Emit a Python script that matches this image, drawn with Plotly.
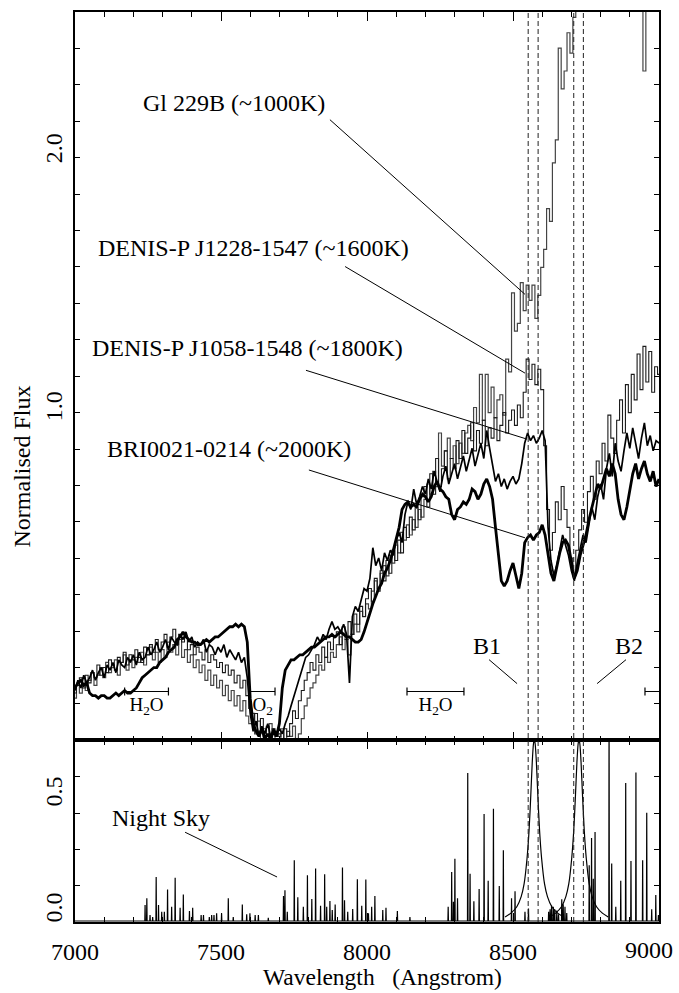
import plotly.graph_objects as go

# ---------------------------------------------------------------
# Spectra on a common 10 A grid (normalised flux)
# ---------------------------------------------------------------
wave = list(range(7000, 9001, 10))

gl229b = [
    -0.12, -0.07, -0.10, -0.04, -0.09, -0.05, -0.02, -0.07, -0.03, 0.00,
    -0.04, 0.02, -0.02, 0.00, 0.03, -0.03, 0.02, 0.05, -0.01, 0.03,
    0.00, 0.04, 0.02, 0.06, 0.01, 0.05, 0.08, 0.03, 0.06, 0.02,
    0.07, 0.04, 0.10, 0.06, 0.09, 0.05, 0.11, 0.04, 0.07, 0.02,
    0.05, 0.00, 0.03, -0.02, 0.01, -0.05, -0.01, -0.07, -0.03, -0.08,
    -0.05, -0.11, -0.07, -0.13, -0.09, -0.15, -0.11, -0.17, -0.13, -0.19,
    -0.22, -0.18, -0.26, -0.21, -0.28, -0.24, -0.27, -0.22, -0.28, -0.25,
    -0.27, -0.24, -0.28, -0.25, -0.27, -0.23, -0.28, -0.26, -0.20, -0.15,
    -0.12, -0.08, -0.06, -0.03, 0.01, -0.01, 0.04, 0.02, 0.06, 0.04,
    0.09, 0.12, 0.07, 0.11, 0.05, 0.13, 0.17, 0.14, 0.22, 0.20,
    0.25, 0.23, 0.30, 0.34, 0.31, 0.37, 0.40, 0.36, 0.44, 0.41,
    0.48, 0.45, 0.53, 0.50, 0.56, 0.52, 0.58, 0.55, 0.62, 0.59,
    0.66, 0.72, 0.68, 0.77, 0.71, 0.92, 0.79, 0.85, 0.90, 0.82,
    0.87, 0.80, 0.88, 0.84, 0.92, 0.95, 0.89, 1.02, 0.96, 1.15,
    0.97, 1.15, 1.00, 1.10, 0.98, 1.05, 1.07, 0.99, 1.21, 1.16,
    1.47, 1.32, 1.35, 1.51, 1.40, 1.50, 1.44, 1.50, 1.37, 1.46,
    1.57, 1.64, 1.80, 1.75, 1.98, 2.07, 2.43, 2.27, 2.34, 2.49,
    2.41, 2.55, 2.78, 2.86, 2.95, 3.02, 2.98, 3.10, 3.05, 3.15,
    3.12, 3.20, 3.18, 3.25, 3.22, 3.30, 3.26, 3.33, 3.29, 3.35,
    3.31, 3.38, 3.34, 3.40, 3.37, 2.34, 3.36, 3.42, 3.39, 3.45,
    3.41,
]

j1228 = [
    -0.10, -0.07, -0.04, -0.08, -0.03, -0.06, -0.02, -0.04, 0.01, -0.03,
    0.00, -0.02, 0.03, 0.01, -0.01, 0.04, 0.02, 0.06, 0.01, 0.05,
    0.03, 0.07, 0.04, 0.02, 0.08, 0.05, 0.09, 0.06, 0.11, 0.07,
    0.10, 0.13, 0.08, 0.12, 0.15, 0.09, 0.13, 0.10, 0.12, 0.07,
    0.09, 0.05, 0.08, 0.06, 0.03, 0.07, 0.02, 0.05, 0.03, 0.00,
    0.02, -0.02, 0.01, -0.03, -0.01, -0.06, -0.03, -0.08, -0.05, -0.11,
    -0.16, -0.21, -0.18, -0.25, -0.20, -0.27, -0.23, -0.28, -0.24, -0.27,
    -0.26, -0.28, -0.24, -0.27, -0.22, -0.17, -0.20, -0.13, -0.09, -0.05,
    -0.02, 0.02, -0.01, 0.05, 0.02, 0.08, 0.04, 0.10, 0.07, 0.12,
    0.14, 0.09, 0.16, 0.11, 0.18, 0.13, 0.21, 0.17, 0.24, 0.20,
    0.27, 0.31, 0.26, 0.35, 0.30, 0.38, 0.34, 0.42, 0.37, 0.46,
    0.42, 0.50, 0.45, 0.55, 0.51, 0.59, 0.54, 0.63, 0.58, 0.67,
    0.71, 0.63, 0.76, 0.68, 0.82, 0.71, 0.78, 0.85, 0.74, 0.82,
    0.78, 0.89, 0.82, 0.93, 0.84, 0.90, 0.96, 0.85, 0.93, 0.88,
    0.97, 0.87, 0.94, 0.90, 0.98, 0.89, 0.95, 1.00, 0.92, 0.97,
    1.01, 0.95, 1.03, 0.98, 1.08, 1.21, 1.13, 1.19, 1.11, 1.17,
    1.09, 0.87, 0.62, 0.46, 0.53, 0.65, 0.58, 0.71, 0.62, 0.55,
    0.43, 0.36, 0.46, 0.54, 0.62, 0.57, 0.69, 0.75, 0.66, 0.81,
    0.76, 0.88, 0.81, 0.99, 0.90, 0.84, 0.97, 1.05, 0.92, 1.11,
    1.00, 1.15, 1.05, 1.23, 1.09, 1.26, 1.12, 1.24, 1.08, 1.18,
    1.15,
]

j1058 = [
    -0.09, -0.05, -0.08, -0.03, -0.06, -0.04, -0.01, -0.05, -0.02, 0.00,
    -0.04, 0.01, -0.01, 0.02, -0.02, 0.03, 0.01, 0.00, 0.04, 0.02,
    0.05, 0.01, 0.06, 0.03, 0.04, 0.08, 0.05, 0.07, 0.10, 0.06,
    0.08, 0.11, 0.07, 0.12, 0.10, 0.09, 0.13, 0.11, 0.14, 0.10,
    0.12, 0.08, 0.10, 0.09, 0.11, 0.06, 0.09, 0.08, 0.05, 0.08,
    0.06, 0.09, 0.04, 0.07, 0.05, 0.03, 0.06, 0.02, 0.04, -0.04,
    -0.18, -0.25, -0.21, -0.27, -0.23, -0.26, -0.22, -0.27, -0.24, -0.26,
    -0.24, -0.26, -0.22, -0.19, -0.15, -0.11, -0.07, -0.03, 0.00, 0.04,
    0.05, 0.07, 0.09, 0.12, 0.10, 0.13, 0.11, 0.15, 0.18, 0.15,
    0.16, 0.14, 0.17, 0.13, -0.06, 0.20, 0.24, 0.22, 0.27, 0.31,
    0.30, 0.35, 0.47, 0.40, 0.43, 0.38, 0.45, 0.42, 0.46, 0.44,
    0.50, 0.53, 0.49, 0.60, 0.65, 0.62, 0.70, 0.64, 0.67, 0.71,
    0.68, 0.74, 0.70, 0.77, 0.73, 0.69, 0.75, 0.79, 0.72, 0.76,
    0.80, 0.74, 0.78, 0.83, 0.77, 0.81, 0.86, 0.79, 0.84, 0.88,
    0.82, 0.93, 0.86, 0.79, 0.73, 0.76, 0.71, 0.74, 0.70, 0.73,
    0.75, 0.72, 0.74, 0.80, 0.88, 0.92, 0.89, 0.91, 0.88, 0.90,
    0.93, 0.89, 0.55, 0.42, 0.36, 0.40, 0.46, 0.52, 0.48, 0.44,
    0.38, 0.34, 0.41, 0.47, 0.52, 0.49, 0.57, 0.63, 0.58, 0.67,
    0.72, 0.66, 0.78, 0.84, 0.75, 0.88, 0.81, 0.77, 0.85, 0.92,
    0.86, 0.94, 0.88, 0.82, 0.90, 0.96, 0.87, 0.91, 0.85, 0.89,
    0.88,
]

bri0021 = [
    -0.08, -0.06, -0.05, -0.07, -0.06, -0.10, -0.11, -0.11, -0.12, -0.11,
    -0.11, -0.12, -0.12, -0.11, -0.10, -0.11, -0.10, -0.09, -0.10, -0.10,
    -0.09, -0.08, -0.06, -0.04, -0.03, -0.02, -0.01, 0.00, 0.00, 0.02,
    0.03, 0.04, 0.06, 0.07, 0.08, 0.11, 0.12, 0.14, 0.12, 0.11,
    0.10, 0.10, 0.09, 0.09, 0.10, 0.11, 0.10, 0.11, 0.12, 0.12,
    0.13, 0.14, 0.15, 0.16, 0.16, 0.17, 0.16, 0.17, 0.16, 0.10,
    -0.12, -0.22, -0.25, -0.27, -0.24, -0.28, -0.26, -0.28, -0.25, -0.27,
    -0.22, -0.08, -0.01, 0.01, 0.03, 0.03, 0.04, 0.05, 0.05, 0.06,
    0.07, 0.08, 0.08, 0.09, 0.10, 0.11, 0.12, 0.12, 0.13, 0.12,
    0.13, 0.14, 0.13, 0.12, 0.12, 0.11, 0.10, 0.10, 0.11, 0.14,
    0.18, 0.21, 0.25, 0.28, 0.31, 0.33, 0.37, 0.39, 0.42, 0.46,
    0.50, 0.55, 0.62, 0.64, 0.65, 0.63, 0.64, 0.63, 0.66, 0.68,
    0.67, 0.65, 0.67, 0.71, 0.73, 0.70, 0.69, 0.67, 0.66, 0.60,
    0.58, 0.62, 0.63, 0.65, 0.64, 0.66, 0.70, 0.69, 0.66, 0.68,
    0.72, 0.74, 0.71, 0.66, 0.55, 0.43, 0.34, 0.32, 0.34, 0.38,
    0.41, 0.36, 0.31, 0.37, 0.49, 0.51, 0.52, 0.50, 0.52, 0.53,
    0.56, 0.52, 0.44, 0.37, 0.34, 0.40, 0.45, 0.49, 0.50, 0.48,
    0.42, 0.35, 0.38, 0.44, 0.48, 0.52, 0.58, 0.63, 0.68, 0.72,
    0.70, 0.74, 0.78, 0.75, 0.80, 0.76, 0.66, 0.60, 0.58, 0.63,
    0.70, 0.76, 0.80, 0.74, 0.78, 0.81, 0.76, 0.73, 0.77, 0.71,
    0.74,
]

object_names = ["Gl 229B (~1000K)", "DENIS-P J1228-1547 (~1600K)",
                "DENIS-P J1058-1548 (~1800K)", "BRI0021-0214 (~2000K)"]

# ---------------------------------------------------------------
# Night-sky emission lines (wavelength, peak)
# ---------------------------------------------------------------
sky_wave = [
    7240, 7246, 7257, 7266, 7278, 7286, 7297, 7306, 7317, 7331,
    7343, 7360, 7371, 7392, 7403, 7432, 7440, 7460, 7468, 7476,
    7485, 7502, 7525, 7542, 7573, 7588, 7599, 7617, 7628, 7662,
    7714, 7719, 7727, 7751, 7763, 7782, 7796, 7811, 7824, 7841,
    7855, 7862, 7873, 7881, 7891, 7916, 7923, 7934, 7951, 7967,
    7982, 7996, 8005, 8016, 8027, 8054, 8065, 8104, 8147, 8278,
    8290, 8296, 8301, 8310, 8345, 8353, 8366, 8384, 8401, 8415,
    8433, 8453, 8467, 8495, 8507, 8541, 8553, 8622, 8627, 8632,
    8638, 8643, 8650, 8656, 8667, 8672, 8678, 8684, 8761, 8769,
    8775, 8781, 8829, 8838, 8852, 8869, 8886, 8904, 8921, 8944,
    8958, 8975, 8989, 8998,
]
sky_peak = [
    0.067, 0.093, 0.027, 0.020, 0.177, 0.067, 0.040, 0.040, 0.128, 0.060,
    0.174, 0.056, 0.108, 0.043, 0.056, 0.027, 0.027, 0.020, 0.027, 0.027,
    0.034, 0.034, 0.093, 0.020, 0.069, 0.030, 0.034, 0.027, 0.027, 0.017,
    0.102, 0.125, 0.040, 0.243, 0.097, 0.060, 0.184, 0.090, 0.210, 0.064,
    0.188, 0.060, 0.083, 0.047, 0.069, 0.214, 0.086, 0.040, 0.051, 0.168,
    0.064, 0.167, 0.034, 0.060, 0.102, 0.047, 0.056, 0.043, 0.020, 0.060,
    0.197, 0.080, 0.249, 0.093, 0.586, 0.190, 0.082, 0.130, 0.425, 0.162,
    0.445, 0.142, 0.282, 0.093, 0.121, 0.040, 0.053, 0.040, 0.050, 0.065,
    0.060, 0.050, 0.045, 0.030, 0.089, 0.070, 0.060, 0.035, 0.223, 0.330,
    0.170, 0.354, 0.900, 0.230, 0.060, 0.162, 0.547, 0.240, 0.588, 0.243,
    0.430, 0.050, 0.106, 0.027,
]
sky_level = 0.004

# ---------------------------------------------------------------
# Narrow-band filter profiles B1 and B2
# ---------------------------------------------------------------
b1_wave = [8473, 8493, 8513, 8528, 8538, 8548, 8555, 8561, 8566, 8570, 8573,
           8576, 8580, 8585, 8591, 8598, 8608, 8618, 8633, 8653, 8673]
b1_trans = [0.02, 0.035, 0.06, 0.10, 0.15, 0.25, 0.36, 0.50, 0.63, 0.70, 0.72,
            0.70, 0.63, 0.50, 0.36, 0.25, 0.15, 0.10, 0.06, 0.035, 0.02]
b2_wave = [8626, 8646, 8666, 8681, 8691, 8701, 8708, 8714, 8719, 8723, 8726,
           8729, 8733, 8738, 8744, 8751, 8761, 8771, 8786, 8806, 8826]
b2_trans = [0.02, 0.035, 0.06, 0.10, 0.15, 0.25, 0.36, 0.50, 0.63, 0.70, 0.72,
            0.70, 0.63, 0.50, 0.36, 0.25, 0.15, 0.10, 0.06, 0.035, 0.02]
filter_edges = [8552, 8586, 8708, 8741]
filter_names = ["B1", "B2"]

# absorption band markers
band_names = ["H<sub>2</sub>O", "O<sub>2</sub>", "H<sub>2</sub>O", ""]
band_start = [7170, 7600, 8137, 8952]
band_end = [7320, 7685, 8332, 9100]

# axis labels
x_ticks = [7000, 7500, 8000, 8500, 9000]
x_tick_text = ["7000", "7500", "8000", "8500", "9000"]
flux_ticks = [1.0, 2.0]
flux_tick_text = ["1.0", "2.0"]
sky_ticks = [0.0, 0.5]
sky_tick_text = ["0.0", "0.5"]

FONT = "Liberation Serif"
SPLIT = 182 / 912

fig = go.Figure()

# band markers |----| with their labels (drawn beneath the spectra)
band_level = -0.094
cap = 0.016
bx, by = [], []
for a, b in zip(band_start, band_end):
    bx += [a, a, a, b, b, b, None]
    by += [band_level + cap, band_level - cap, band_level, band_level,
           band_level + cap, band_level - cap, None]
fig.add_trace(go.Scatter(x=bx, y=by, mode="lines",
                         line=dict(color="black", width=1.2),
                         xaxis="x", yaxis="y", hoverinfo="skip"))
lab_x = [(a + b) / 2 for a, b, n in zip(band_start, band_end, band_names) if n]
lab_t = [n for n in band_names if n]
fig.add_trace(go.Scatter(x=lab_x, y=[band_level - 0.056] * len(lab_x),
                         mode="text", text=lab_t,
                         textfont=dict(family=FONT, size=19, color="black"),
                         xaxis="x", yaxis="y", hoverinfo="skip"))

# spectra: the two coolest drawn as binned steps, the others as lines
styles = [
    (gl229b, "#444444", 1.2, "hvh"),
    (j1228, "#1a1a1a", 1.1, "hvh"),
    (j1058, "black", 1.7, "linear"),
    (bri0021, "black", 2.8, "linear"),
]
for flux, col, w, shp in styles:
    fig.add_trace(go.Scatter(x=wave, y=flux, mode="lines",
                             line=dict(color=col, width=w, shape=shp),
                             xaxis="x", yaxis="y", hoverinfo="skip"))

# night sky spectrum
sx, sy = [7000], [sky_level]
for w, h in sorted(zip(sky_wave, sky_peak)):
    sx += [w - 0.9, w, w + 0.9]
    sy += [sky_level, h, sky_level]
sx.append(9000)
sy.append(sky_level)
fig.add_trace(go.Scatter(x=sx, y=sy, mode="lines",
                         line=dict(color="black", width=1.2),
                         xaxis="x2", yaxis="y2", hoverinfo="skip"))

# filter transmission curves
for fw, ft in ((b1_wave, b1_trans), (b2_wave, b2_trans)):
    fig.add_trace(go.Scatter(x=fw, y=ft, mode="lines",
                             line=dict(color="black", width=1.2,
                                       shape="spline", smoothing=0.8),
                             xaxis="x2", yaxis="y2", hoverinfo="skip"))

shapes = []
# filter band edges across both panels
for e in filter_edges:
    shapes.append(dict(type="line", xref="x", yref="paper", x0=e, x1=e,
                       y0=0, y1=1,
                       line=dict(color="#222222", width=1, dash="5px,3px")))

# leader lines from the object names to their spectra
leaders = [
    (7873, 2.149, 8541, 1.464),
    (7925, 1.573, 8541, 1.155),
    (7791, 1.166, 8548, 0.896),
    (7801, 0.775, 8541, 0.509),
]
for x0, y0, x1, y1 in leaders:
    shapes.append(dict(type="line", xref="x", yref="y", x0=x0, y0=y0,
                       x1=x1, y1=y1, line=dict(color="black", width=1)))
# filter label leaders
shapes.append(dict(type="line", xref="x", yref="y", x0=8418, y0=0.031,
                   x1=8514, y1=-0.063, line=dict(color="black", width=1)))
shapes.append(dict(type="line", xref="x", yref="y", x0=8887, y0=0.031,
                   x1=8788, y1=-0.063, line=dict(color="black", width=1)))
# night sky leader
shapes.append(dict(type="line", xref="x2", yref="y2", x0=7377, y0=0.353,
                   x1=7692, y1=0.177, line=dict(color="black", width=1)))

annotations = []
name_pos = [(7544, 2.215), (7611, 1.646), (7592, 1.254), (7526, 0.857)]
for name, (x, y) in zip(object_names, name_pos):
    annotations.append(dict(x=x, y=y, xref="x", yref="y", text=name,
                            showarrow=False, xanchor="center", yanchor="middle",
                            font=dict(family=FONT, size=24, color="black")))
for name, x in zip(filter_names, (8411, 8897)):
    annotations.append(dict(x=x, y=0.086, xref="x", yref="y", text=name,
                            showarrow=False, xanchor="center", yanchor="middle",
                            font=dict(family=FONT, size=24, color="black")))
annotations.append(dict(x=7294, y=0.408, xref="x2", yref="y2", text="Night Sky",
                        showarrow=False, xanchor="center", yanchor="middle",
                        font=dict(family=FONT, size=24, color="black")))

# tick labels
for v, t in zip(x_ticks, x_tick_text):
    annotations.append(dict(x=v, y=-0.0323, xref="x2", yref="paper", text=t,
                            showarrow=False, xanchor="center", yanchor="middle",
                            xshift=-10 if v == 9000 else 0,
                            yshift=1 if v == 9000 else -1,
                            font=dict(family=FONT, size=24, color="black")))
for v, t, s in zip(flux_ticks, flux_tick_text, (6, 9)):
    annotations.append(dict(x=-0.0368, y=v, xref="paper", yref="y", text=t,
                            textangle=-90, showarrow=False, yshift=s,
                            xanchor="center", yanchor="middle",
                            font=dict(family=FONT, size=24, color="black")))
for v, t, s in zip(sky_ticks, sky_tick_text, (14, 3)):
    annotations.append(dict(x=-0.0368, y=v, xref="paper", yref="y2", text=t,
                            textangle=-90, showarrow=False, yshift=s,
                            xanchor="center", yanchor="middle",
                            font=dict(family=FONT, size=24, color="black")))

# axis titles
annotations.append(dict(x=-0.0916, y=0.5, xref="paper", yref="paper",
                        text="Normalised Flux", textangle=-90, showarrow=False,
                        xanchor="center", yanchor="middle",
                        font=dict(family=FONT, size=24, color="black")))
annotations.append(dict(x=0.527, y=-0.0559, xref="paper", yref="paper",
                        text="Wavelength\u00a0\u00a0\u00a0(Angstrom)",
                        showarrow=False, xanchor="center", yanchor="middle",
                        yshift=-4,
                        font=dict(family=FONT, size=23.5, color="black")))

axis_common = dict(showline=True, linecolor="black", linewidth=1.5,
                   mirror="ticks", ticks="inside", tickcolor="black",
                   tickwidth=1, showgrid=False, zeroline=False,
                   showticklabels=False)
x_common = dict(axis_common, range=[7000, 9000], tick0=7000, dtick=500,
                ticklen=9,
                minor=dict(tick0=7000, dtick=100, ticklen=5, ticks="inside",
                           tickcolor="black", tickwidth=1, showgrid=False))

fig.update_layout(
    width=679, height=993,
    margin=dict(l=75, r=20, t=10, b=71),
    paper_bgcolor="white", plot_bgcolor="white",
    showlegend=False,
    font=dict(family=FONT, size=24, color="black"),
    xaxis=dict(x_common, domain=[0, 1], anchor="y"),
    yaxis=dict(axis_common, domain=[SPLIT, 1], anchor="x",
               range=[-2 / 7, 18 / 7], tickmode="array",
               tickvals=[k / 7 for k in range(-1, 18)], ticklen=5),
    xaxis2=dict(x_common, domain=[0, 1], anchor="y2"),
    yaxis2=dict(axis_common, domain=[0, SPLIT], anchor="x2",
                range=[0, 5 / 7], tickmode="array",
                tickvals=[k / 7 for k in range(1, 5)], ticklen=5),
    shapes=shapes,
    annotations=annotations,
)

fig.write_html("out.html")
